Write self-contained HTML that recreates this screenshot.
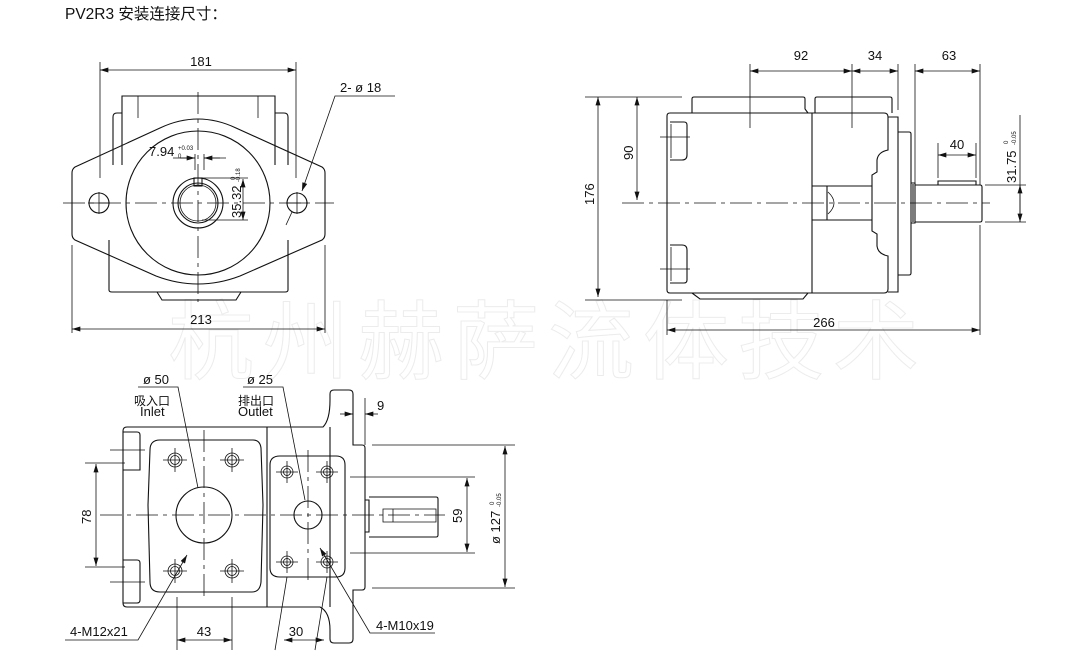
<!DOCTYPE html>
<html><head><meta charset="utf-8"><style>
html,body{margin:0;padding:0;background:#fff;width:1090px;height:656px;overflow:hidden}
svg{display:block}
text{font-family:"Liberation Sans","Noto Sans CJK SC",sans-serif;fill:#111}
.l{stroke:#111;stroke-width:1.1;fill:none}
.t{stroke:#111;stroke-width:0.8;fill:none}
.c{stroke:#111;stroke-width:0.8;fill:none;stroke-dasharray:22 5 4 5}
</style></head><body>
<svg width="1090" height="656" viewBox="0 0 1090 656" xmlns="http://www.w3.org/2000/svg">
<defs>
<marker id="a" viewBox="0 0 10 6" refX="10" refY="3" markerWidth="9" markerHeight="5" orient="auto-start-reverse" markerUnits="userSpaceOnUse"><path d="M0,0 L10,3 L0,6 z" fill="#111"/></marker>
</defs>
<text x="65" y="19" font-size="15.5">PV2R3 安装连接尺寸：</text>

<!-- watermark -->
<text x="168" y="372" font-size="86" letter-spacing="9" style="fill:#fff;stroke:#ececec;stroke-width:1;font-family:'Noto Sans CJK SC',sans-serif">杭州赫萨流体技术</text>

<!-- ===== FRONT VIEW ===== -->
<path class="l" d="M122,165 V96 H275 V165"/>
<path class="t" d="M138,96 V118 M258,96 V118"/>
<path class="l" d="M113,165 V117 Q113,113 117,113 H122 M275,113 H284 Q288,113 288,117 V165"/>
<path class="l" d="M109,240 V290 Q109,292 112,292 H285 Q288,292 288,290 V240"/>
<path class="l" d="M157,292 L162,300 H236 L241,292"/>
<path class="l" d="M75,167 L160,128 Q198,110 236,128 L322,167 Q325,169 325,173 V234 Q325,238 322,240 L240,276 Q198,292 156,276 L75,240 Q72,238 72,234 V173 Q72,169 75,167 Z"/>
<circle class="l" cx="198" cy="203" r="72"/>
<circle class="l" cx="198" cy="203" r="25"/>
<circle class="l" cx="198" cy="203" r="20"/>
<circle class="t" cx="198" cy="203" r="18"/>
<rect class="l" x="194" y="178" width="8" height="8"/>
<circle class="l" cx="99" cy="203" r="10"/>
<circle class="l" cx="297" cy="203" r="10"/>
<path class="c" d="M63,203 H334 M198,92 V302"/>
<path class="t" d="M99,192 V214 M88,203 H110 M297,192 V214 M286,203 H308"/>
<path class="t" d="M100,62 V178 M296,62 V178"/>
<path class="t" d="M100,70 H296" marker-start="url(#a)" marker-end="url(#a)"/>
<text x="201" y="66" font-size="13" text-anchor="middle">181</text>
<path class="t" d="M72,245 V333 M325,245 V333"/>
<path class="t" d="M72,329 H325" marker-start="url(#a)" marker-end="url(#a)"/>
<text x="201" y="324" font-size="13" text-anchor="middle">213</text>
<path class="t" d="M395,96 H335 L302,191" marker-end="url(#a)"/>
<path class="t" d="M292,212 L286,225"/>
<text x="340" y="92" font-size="13">2- ø 18</text>
<path class="t" d="M195,154 V170 M204,154 V170 M173,158 H195 M226,158 H204"/>
<path class="t" d="M180,158 H195" marker-end="url(#a)"/><path class="t" d="M220,158 H204" marker-end="url(#a)"/>
<text x="149" y="156" font-size="13">7.94</text>
<text x="178" y="150" font-size="6">+0.03</text>
<text x="178" y="158" font-size="6">0</text>
<path class="t" d="M202,178 H248 M202,220 H248"/>
<path class="t" d="M243,179 V220" marker-start="url(#a)" marker-end="url(#a)"/>
<text transform="translate(241,218) rotate(-90)" font-size="13">35.32</text>
<text transform="translate(235,180) rotate(-90)" font-size="6">0</text>
<text transform="translate(240,182) rotate(-90)" font-size="6">-0.18</text>

<!-- ===== SIDE VIEW ===== -->
<path class="l" d="M692,113 V99 Q692,97 694,97 H803 Q805,97 805,99 V109 L808,113 M815,113 V99 Q815,97 817,97 H890 Q892,97 892,99 V113"/>
<path class="l" d="M692,293 L700,299 H803 L808,293"/>
<path class="l" d="M670,113 H812 V293 H670 Q667,293 667,290 V116 Q667,113 670,113 Z"/>
<path class="l" d="M670,122 H684 Q687,122 687,125 V155 Q687,160 682,160 H670 M670,283 H684 Q687,283 687,280 V250 Q687,245 682,245 H670"/>
<path class="t" d="M671,124 V158 M671,247 V281 M660,137 H690 M660,269 H690"/>
<path class="l" d="M812,113 H884 Q888,113 888,117 V150 Q878,152 877,160 V172 L872,175 V231 L877,234 V246 Q878,254 888,256 V289 Q888,293 884,293 H812"/>
<path class="l" d="M812,186 H872 M812,220 H872 M827,186 V220"/>
<path class="t" d="M828,192 Q840,203 828,214"/>
<path class="l" d="M888,117 H898 V292 H888 M898,132 H909 Q911,132 911,134 V273 Q911,275 909,275 H898"/>
<path class="l" d="M911,183 H915 V223 H911 M913,184 V222"/>
<path class="l" d="M915,185 H980 Q982,185 982,187 V220 Q982,222 980,222 H915"/>
<path class="l" d="M938,185 V181 H976 V185"/>
<path class="c" d="M622,203 H990"/>
<path class="t" d="M750,64 V128 M852,64 V128 M898,64 V110 M915,64 V185 M980,64 V185"/>
<path class="t" d="M750,71 H852" marker-start="url(#a)" marker-end="url(#a)"/>
<path class="t" d="M852,71 H898" marker-start="url(#a)" marker-end="url(#a)"/>
<path class="t" d="M915,71 H980" marker-start="url(#a)" marker-end="url(#a)"/>
<text x="801" y="60" font-size="13" text-anchor="middle">92</text>
<text x="875" y="60" font-size="13" text-anchor="middle">34</text>
<text x="949" y="60" font-size="13" text-anchor="middle">63</text>
<path class="t" d="M585,97 H682 M585,300 H682"/>
<path class="t" d="M598,97 V297" marker-start="url(#a)" marker-end="url(#a)"/>
<text transform="translate(594,205) rotate(-90)" font-size="13">176</text>
<path class="t" d="M637,97 V200" marker-start="url(#a)" marker-end="url(#a)"/>
<text transform="translate(633,160) rotate(-90)" font-size="13">90</text>
<path class="t" d="M938,143 V178 M976,143 V178"/>
<path class="t" d="M938,155 H976" marker-start="url(#a)" marker-end="url(#a)"/>
<text x="957" y="149" font-size="13" text-anchor="middle">40</text>
<path class="t" d="M985,185 H1026 M985,222 H1026 M1020,115 V222"/>
<path class="t" d="M1020,185 V222" marker-start="url(#a)" marker-end="url(#a)"/>
<text transform="translate(1016,183) rotate(-90)" font-size="13">31.75</text>
<text transform="translate(1008,144) rotate(-90)" font-size="6">0</text>
<text transform="translate(1016,145) rotate(-90)" font-size="6">-0.05</text>
<path class="t" d="M667,300 V335 M980,225 V335"/>
<path class="t" d="M667,330 H980" marker-start="url(#a)" marker-end="url(#a)"/>
<text x="824" y="327" font-size="13" text-anchor="middle">266</text>

<!-- ===== BOTTOM VIEW ===== -->
<path class="l" d="M127,427 H323 Q330,420 330,400 V394 Q330,390 334,390 H349 Q353,390 353,394 V445 H362 Q365,445 365,448 V587 Q365,590 362,590 H353 V639 Q353,643 349,643 H334 Q330,643 330,639 V630 Q330,612 320,607 H127 Q123,607 123,603 V431 Q123,427 127,427 Z"/>
<path class="l" d="M330,427 V607"/>
<path class="l" d="M123,432 H137 Q140,432 140,435 V470 H123 M123,560 H137 Q140,560 140,563 V600 Q140,603 137,603 H123"/>
<path class="t" d="M110,450 H145 M110,582 H145"/>
<path class="l" d="M267,427 V607"/>
<path class="l" d="M160,440 H253 Q260,440 261,448 L263,505 L261,582 Q260,592 252,592 H160 Q150,592 150,582 L148,505 L150,450 Q150,440 160,440 Z"/>
<circle class="l" cx="204" cy="515" r="28"/>
<path class="l" d="M280,456 H336 Q345,456 345,465 V568 Q345,577 336,577 H280 Q270,577 270,568 V465 Q270,456 280,456 Z"/>
<circle class="l" cx="308" cy="515" r="14"/>
<g class="t">
<circle cx="175" cy="460" r="7"/><circle cx="232" cy="460" r="7"/><circle cx="175" cy="571" r="7"/><circle cx="232" cy="571" r="7"/>
<circle cx="175" cy="460" r="4.5"/><circle cx="232" cy="460" r="4.5"/><circle cx="175" cy="571" r="4.5"/><circle cx="232" cy="571" r="4.5"/>
<circle cx="287" cy="472" r="6"/><circle cx="327" cy="472" r="6"/><circle cx="287" cy="562" r="6"/><circle cx="327" cy="562" r="6"/>
<circle cx="287" cy="472" r="3.5"/><circle cx="327" cy="472" r="3.5"/><circle cx="287" cy="562" r="3.5"/><circle cx="327" cy="562" r="3.5"/>
<path d="M163,460 H187 M175,448 V472 M220,460 H244 M232,448 V472 M163,571 H187 M175,559 V583 M220,571 H244 M232,559 V583 M276,472 H298 M287,461 V483 M316,472 H338 M327,461 V483 M276,562 H298 M287,551 V573 M316,562 H338 M327,551 V573"/>
</g>
<path class="l" d="M365,500 H369 V532 H365 M369,497 H436 Q438,497 438,499 V535 Q438,537 436,537 H369"/>
<path class="t" d="M383,509 H436 V522 H383 Z M393,509 V522"/>
<path class="c" d="M100,515 H445 M204,430 V600 M308,450 V580"/>
<path class="t" d="M85,463 H125 M85,567 H125"/>
<path class="t" d="M96,464 V566" marker-start="url(#a)" marker-end="url(#a)"/>
<text transform="translate(91,524) rotate(-90)" font-size="13">78</text>
<path class="t" d="M350,477 H475 M350,553 H475"/>
<path class="t" d="M467,478 V552" marker-start="url(#a)" marker-end="url(#a)"/>
<text transform="translate(462,523) rotate(-90)" font-size="13">59</text>
<path class="t" d="M372,445 H515 M372,588 H515"/>
<path class="t" d="M505,446 V587" marker-start="url(#a)" marker-end="url(#a)"/>
<text transform="translate(500,544) rotate(-90)" font-size="13">ø 127</text>
<text transform="translate(494,505) rotate(-90)" font-size="6">0</text>
<text transform="translate(501,507) rotate(-90)" font-size="6">-0.05</text>
<path class="t" d="M365,398 V445"/>
<path class="t" d="M340,414 H353" marker-end="url(#a)"/><path class="t" d="M378,414 H365" marker-end="url(#a)"/>
<text x="377" y="410" font-size="13">9</text>
<path class="t" d="M177,597 V650 M232,597 V650"/>
<path class="t" d="M177,640 H232" marker-start="url(#a)" marker-end="url(#a)"/>
<text x="204" y="636" font-size="13" text-anchor="middle">43</text>
<path class="t" d="M287,577 L275,650 M327,577 L315,650"/>
<path class="t" d="M284,640 H324" marker-start="url(#a)" marker-end="url(#a)"/>
<text x="296" y="636" font-size="13" text-anchor="middle">30</text>
<text x="143" y="384" font-size="13">ø 50</text>
<text x="134" y="405" font-size="12">吸入口</text>
<text x="140" y="416" font-size="13">Inlet</text>
<path class="t" d="M138,387 H178 L198,488"/>
<text x="247" y="384" font-size="13">ø 25</text>
<text x="238" y="405" font-size="12">排出口</text>
<text x="238" y="416" font-size="13">Outlet</text>
<path class="t" d="M243,387 H283 L305,500"/>
<path class="t" d="M65,640 H138 L187,555" marker-end="url(#a)"/>
<text x="70" y="636" font-size="13">4-M12x21</text>
<path class="t" d="M435,633 H370 L320,548" marker-end="url(#a)"/>
<text x="376" y="630" font-size="13">4-M10x19</text>
</svg>
</body></html>
